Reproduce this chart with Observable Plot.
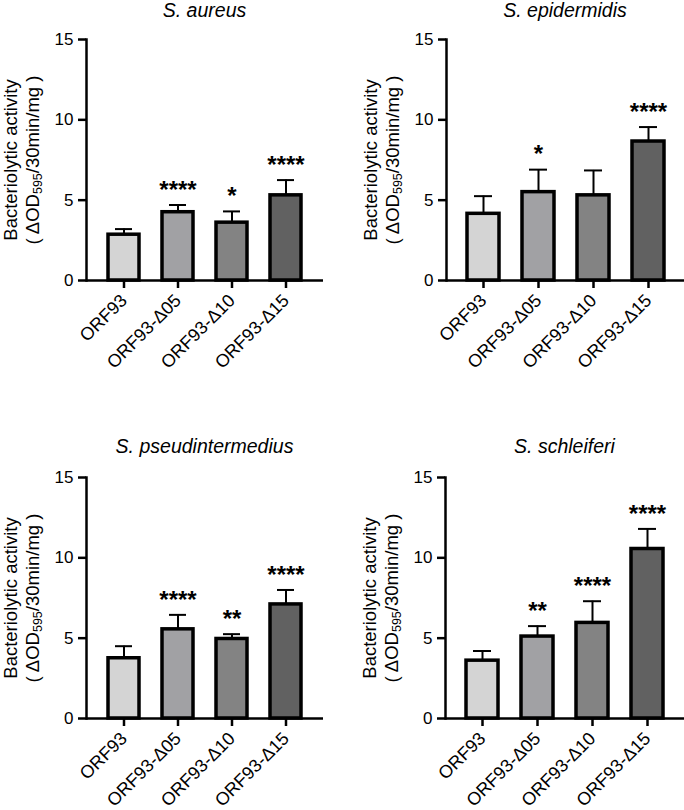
<!DOCTYPE html>
<html><head><meta charset="utf-8">
<script src="https://cdn.jsdelivr.net/npm/d3@7"></script>
<script src="https://cdn.jsdelivr.net/npm/@observablehq/plot@0.6"></script>
<style>
body{margin:0;background:#fff;font-family:"Liberation Sans",Arial,sans-serif;}
#root{position:relative;width:684px;height:810px;overflow:hidden;background:#fff;}
.panel{position:absolute;}
.title{position:absolute;font-style:italic;font-size:19.5px;line-height:0.9;transform:translate(-50%,-50%);white-space:nowrap;color:#000;}
.ylab{position:absolute;font-size:18.5px;white-space:nowrap;transform:translate(-50%,-50%) rotate(-90deg);color:#000;line-height:0.9;}
.ylab sub{font-size:12.5px;vertical-align:-3px;line-height:0;}
</style></head><body><div id="root"></div>
<script>
// categories
const groups = ["ORF93", "ORF93-Δ05", "ORF93-Δ10", "ORF93-Δ15"];
const fills = ["#d4d4d4", "#a1a1a4", "#838383", "#616161"];
const species = ["S. aureus", "S. epidermidis", "S. pseudintermedius", "S. schleiferi"];

// means and SD (upper error only)
const aureusMean = [2.85, 4.25, 3.6, 5.3];
const aureusSD = [0.35, 0.45, 0.7, 0.95];
const aureusSig = ["", "****", "*", "****"];

const epidermidisMean = [4.15, 5.5, 5.3, 8.65];
const epidermidisSD = [1.1, 1.4, 1.55, 0.9];
const epidermidisSig = ["", "*", "", "****"];

const pseudMean = [3.75, 5.55, 4.95, 7.1];
const pseudSD = [0.75, 0.9, 0.3, 0.9];
const pseudSig = ["", "****", "**", "****"];

const schleiferiMean = [3.6, 5.1, 5.95, 10.55];
const schleiferiSD = [0.6, 0.65, 1.35, 1.25];
const schleiferiSig = ["", "**", "****", "****"];

const yTicks = [0, 5, 10, 15];

const series = [
  [aureusMean, aureusSD, aureusSig],
  [epidermidisMean, epidermidisSD, epidermidisSig],
  [pseudMean, pseudSD, pseudSig],
  [schleiferiMean, schleiferiSD, schleiferiSig]
];

const layout = [
  {left: 0, top: 0, ml: 86, mr: 19, ty: 11},
  {left: 342, top: 0, ml: 104, mr: 0, ty: 11},
  {left: 0, top: 438, ml: 86, mr: 19, ty: 9},
  {left: 342, top: 438, ml: 103, mr: 0, ty: 9}
];

const root = document.getElementById("root");
const W = 342, H = 380, MT = 39, MB = 100;

series.forEach(([mean, sd, sig], k) => {
  const L = layout[k];
  const data = groups.map((g, i) => ({g, mean: mean[i], upper: mean[i] + sd[i], star: sig[i]}));
  const chart = Plot.plot({
    width: W, height: H,
    marginTop: MT, marginBottom: MB, marginLeft: L.ml, marginRight: L.mr,
    style: {fontFamily: "'Liberation Sans', Arial, sans-serif", fontSize: "17px", color: "black", background: "transparent", overflow: "visible"},
    x: {domain: groups, paddingInner: 0.42, paddingOuter: 0.368, label: null},
    y: {domain: [0, 15], ticks: yTicks, label: null},
    color: {domain: groups, range: fills},
    marks: [
      Plot.ruleX(data, {x: "g", y1: "mean", y2: "upper", stroke: "black", strokeWidth: 2}),
      Plot.barY(data, {x: "g", y: "mean", fill: "g", stroke: "black", strokeWidth: 3.5}),
      Plot.tickY(data, {x: "g", y: "upper", stroke: "black", strokeWidth: 2, insetLeft: 7, insetRight: 7}),
      Plot.text(data, {x: "g", y: "upper", text: "star", dy: -15, fontSize: 24, fontWeight: "bold", fill: "black"}),
      Plot.ruleY([0], {stroke: "black", strokeWidth: 2.5}),
      Plot.frame({anchor: "left", stroke: "black", strokeWidth: 2.5}),
      Plot.axisY({ticks: yTicks, tickSize: 8, tickPadding: 5, strokeWidth: 2.5, fontSize: 17, label: null}),
      Plot.axisX({tickSize: 8, tickPadding: 9, tickRotate: -45, strokeWidth: 2.5, fontSize: 18, label: null})
    ]
  });
  const wrap = document.createElement("div");
  wrap.className = "panel";
  wrap.style.left = L.left + "px";
  wrap.style.top = L.top + "px";
  wrap.appendChild(chart);
  root.appendChild(wrap);

  const cx = L.left + L.ml + (W - L.ml - L.mr) / 2;
  const t = document.createElement("div");
  t.className = "title";
  t.textContent = species[k];
  t.style.left = cx + "px";
  t.style.top = (L.top + L.ty) + "px";
  root.appendChild(t);

  const cy = L.top + (MT + (H - MB)) / 2;
  const l1 = document.createElement("div");
  l1.className = "ylab";
  l1.textContent = "Bacteriolytic activity";
  l1.style.left = (L.left + L.ml - 75.5) + "px";
  l1.style.top = cy + "px";
  root.appendChild(l1);

  const l2 = document.createElement("div");
  l2.className = "ylab";
  l2.innerHTML = "( ΔOD<sub>595</sub>/30min/mg )";
  l2.style.left = (L.left + L.ml - 53.5) + "px";
  l2.style.top = cy + "px";
  root.appendChild(l2);
});
</script>
</body></html>
